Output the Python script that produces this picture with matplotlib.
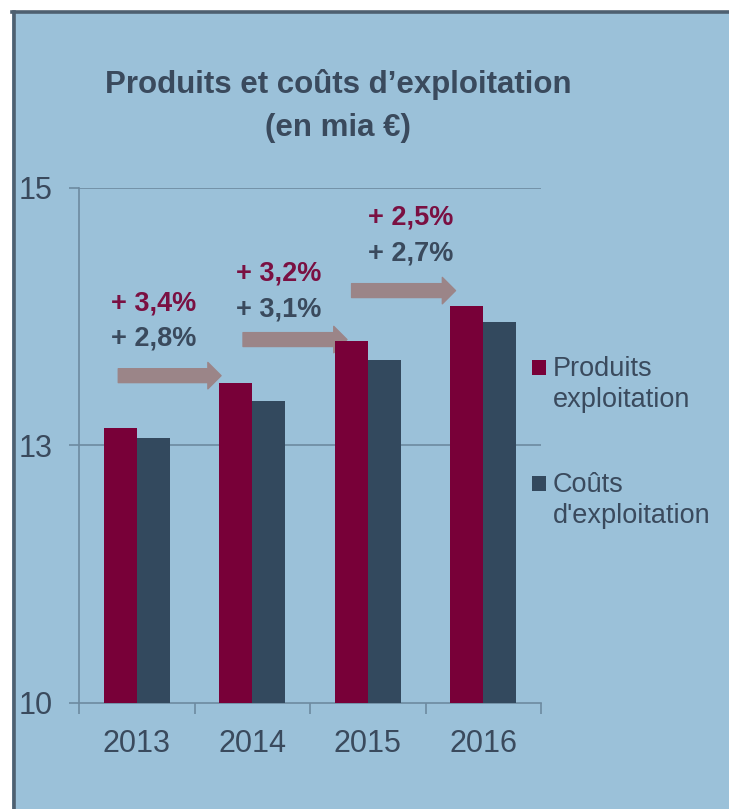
import matplotlib.pyplot as plt
import matplotlib.patches as mpatches
import numpy as np

# data
years = ['2013', '2014', '2015', '2016']
produits = [13.13, 13.48, 13.81, 14.08]
couts = [13.06, 13.34, 13.66, 13.96]
growth_produits = ['+ 3,4%', '+ 3,2%', '+ 2,5%']
growth_couts = ['+ 2,8%', '+ 3,1%', '+ 2,7%']
yticks = [10, 13, 15]

bg = '#9bc1d9'
c_prod = '#780038'
c_cout = '#33495e'
c_text = '#3a4a5d'
c_grid = '#6d8aa0'
c_arrow = '#9b8588'

plt.rcParams['font.family'] = ['Liberation Sans', 'DejaVu Sans']

fig = plt.figure(figsize=(7.29, 8.09), dpi=100)
fig.patch.set_facecolor('white')

# panel background with dark border on top and left
fig.patches.append(mpatches.Rectangle((12 / 729, 0), 1, 1 - 12 / 809,
                                      transform=fig.transFigure, facecolor=bg,
                                      edgecolor='none', zorder=-5))
fig.add_artist(plt.Line2D([13.5 / 729, 13.5 / 729], [0, 1 - 12 / 809],
                          transform=fig.transFigure, color='#4e6070', lw=2.6, zorder=-4))
fig.add_artist(plt.Line2D([12 / 729, 1], [1 - 12 / 809, 1 - 12 / 809],
                          transform=fig.transFigure, color='#4e6070', lw=2.6, zorder=-4))

ax = fig.add_axes([79 / 729, 1 - 703 / 809, 462 / 729, 515.5 / 809])
ax.set_facecolor('none')
ax.set_zorder(2)


# broken value axis: 10..13 and 13..15 take the same height
def fwd(v):
    v = np.asarray(v, dtype=float)
    return np.where(v <= 13, (v - 10) / 3, 1 + (v - 13) / 2)


def inv(p):
    p = np.asarray(p, dtype=float)
    return np.where(p <= 1, 10 + 3 * p, 13 + 2 * (p - 1))


ax.set_yscale('function', functions=(fwd, inv))

x = np.arange(len(years))
w = 0.286
base = 10
ax.bar(x - w / 2, np.array(produits) - base, w, bottom=base, color=c_prod, zorder=3)
ax.bar(x + w / 2, np.array(couts) - base, w, bottom=base, color=c_cout, zorder=3)
ax.set_ylim(10, 15)

ax.set_xlim(-0.5, 3.5)
ax.set_xticks(np.arange(-0.5, 4, 1))
ax.set_xticklabels([])
ax.set_xticks(x, minor=True)
ax.set_xticklabels(years, minor=True, fontsize=22, color=c_text)
ax.tick_params(axis='x', which='major', length=8, width=1.2, color=c_grid, direction='out')
ax.tick_params(axis='x', which='minor', length=0, pad=19)

ax.set_yticks(yticks)
ax.set_yticklabels([str(t) for t in yticks], fontsize=22, color=c_text)
ax.tick_params(axis='y', length=7, width=1.2, color=c_grid, pad=12)
ax.yaxis.set_minor_locator(plt.NullLocator())
for t in [13, 15]:
    ax.axhline(t, color=c_grid, lw=1.2, zorder=1)

for s in ['top', 'right']:
    ax.spines[s].set_visible(False)
for s in ['left', 'bottom']:
    ax.spines[s].set_color(c_grid)
    ax.spines[s].set_linewidth(1.2)

# growth arrows and labels
arrow_x = [(-0.16, 0.73), (0.92, 1.82), (1.86, 2.76)]
arrow_y = [13.54, 13.82, 14.2]
text_x = [-0.22, 0.86, 2.0]
text_y1 = [14.1, 14.33, 14.77]
text_y2 = [13.83, 14.05, 14.49]
for i in range(3):
    ax.annotate('', xy=(arrow_x[i][1], arrow_y[i]), xytext=(arrow_x[i][0], arrow_y[i]),
                arrowprops=dict(arrowstyle='simple,head_length=9.5,head_width=19,tail_width=10',
                                mutation_scale=1, color=c_arrow, shrinkA=0, shrinkB=0),
                zorder=2)
    ax.text(text_x[i], text_y1[i], growth_produits[i], fontsize=19.5, fontweight='bold',
            color='#7a1042', va='center', ha='left')
    ax.text(text_x[i], text_y2[i], growth_couts[i], fontsize=19.5, fontweight='bold',
            color=c_text, va='center', ha='left')

# title
fig.text(338 / 729, 1 - 85 / 809, 'Produits et coûts d’exploitation', fontsize=22.5,
         fontweight='bold', color=c_text, ha='center', va='center')
fig.text(338 / 729, 1 - 128 / 809, '(en mia €)', fontsize=22.5,
         fontweight='bold', color=c_text, ha='center', va='center')

# legend drawn by hand: square aligned with first text line
legend = [('Produits\nexploitation', c_prod, 360), ("Coûts\nd'exploitation", c_cout, 476)]
for label, col, ytop in legend:
    fig.patches.append(mpatches.Rectangle((532 / 729, 1 - (ytop + 15) / 809), 14 / 729, 15 / 809,
                                          transform=fig.transFigure, facecolor=col,
                                          edgecolor='none'))
    fig.text(553 / 729, 1 - (ytop - 4) / 809, label, fontsize=19.5, color=c_text,
             ha='left', va='top', linespacing=1.27)

fig.savefig('out.png', dpi=100, facecolor=fig.get_facecolor())
